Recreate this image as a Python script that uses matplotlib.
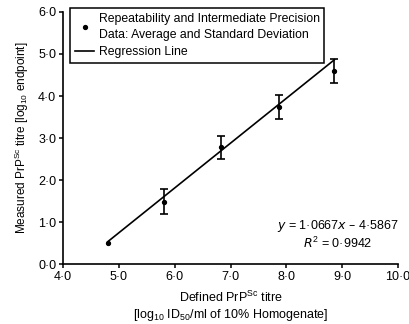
import numpy as np
import matplotlib
matplotlib.use("Agg")
import matplotlib.pyplot as plt
from matplotlib.ticker import FuncFormatter, MultipleLocator
from matplotlib.lines import Line2D

plt.rcParams['font.family'] = ['Liberation Sans', 'DejaVu Sans']
plt.rcParams['mathtext.default'] = 'regular'

# Data
defined_titre = [4.8, 5.8, 6.83, 7.87, 8.86]
measured_titre = [0.5, 1.48, 2.78, 3.74, 4.60]
measured_sd = [0.0, 0.30, 0.28, 0.29, 0.28]
slope = 1.0667
intercept = -4.5867
r_squared = 0.9942

fig = plt.figure(figsize=(4.10, 3.24), dpi=100)
ax = fig.add_axes([0.154, 0.185, 0.817, 0.778])

x = np.array(defined_titre)
y = np.array(measured_titre)
sd = np.array(measured_sd)
has_err = sd > 0

# Regression line
xl = np.array([x.min(), x.max()])
ax.plot(xl, slope * xl + intercept, color='black', lw=1.2, zorder=2)

# Points with error bars
ax.plot(x, y, 'o', color='black', ms=2.8, zorder=3)
ax.errorbar(x[has_err], y[has_err], yerr=sd[has_err], fmt='none',
            ecolor='black', elinewidth=1.2, capsize=2.8, capthick=1.2, zorder=3)

ax.set_xlim(4.0, 10.0)
ax.set_ylim(0.0, 6.0)
ax.xaxis.set_major_locator(MultipleLocator(1.0))
ax.yaxis.set_major_locator(MultipleLocator(1.0))
fmt = FuncFormatter(lambda v, p: f"{v:.1f}".replace('.', '\u00b7'))
ax.xaxis.set_major_formatter(fmt)
ax.yaxis.set_major_formatter(fmt)
ax.tick_params(direction='out', length=3, width=1.1, labelsize=9, pad=2, colors='black')

for s in ['top', 'right']:
    ax.spines[s].set_visible(False)
for s in ['left', 'bottom']:
    ax.spines[s].set_linewidth(1.2)
    ax.spines[s].set_color('black')

ax.set_xlabel("Defined PrP$^{Sc}$ titre\n[log$_{10}$ ID$_{50}$/ml of 10% Homogenate]",
              fontsize=9, labelpad=5, linespacing=1.15)
ax.set_ylabel("Measured PrP$^{Sc}$ titre [log$_{10}$ endpoint]", fontsize=8.5, labelpad=5)

ax.text(0.82, 0.117, "$\\mathit{y}$ = 1\u00b70667$\\mathit{x}$ \u2013 4\u00b75867\n$\\mathit{R}^2$ = 0\u00b79942",
        transform=ax.transAxes, ha='center', va='center', fontsize=9, linespacing=1.2)

handles = [Line2D([], [], marker='o', ls='none', color='black', ms=2.8),
           Line2D([], [], color='black', lw=1.2)]
labels = ["Repeatability and Intermediate Precision\nData: Average and Standard Deviation",
          "Regression Line"]
leg = ax.legend(handles, labels, loc='upper left', bbox_to_anchor=(0.02, 1.016),
                borderaxespad=0, fontsize=8.8, frameon=True, fancybox=False,
                edgecolor='black', handlelength=1.6, handletextpad=0.35,
                borderpad=0.4, labelspacing=0.4)
leg.get_texts()[0].set_linespacing(1.45)
leg.get_frame().set_linewidth(1.1)
leg.get_frame().set_alpha(1)
leg.set_zorder(1)

fig.savefig("out.png", dpi=100, facecolor='white')
